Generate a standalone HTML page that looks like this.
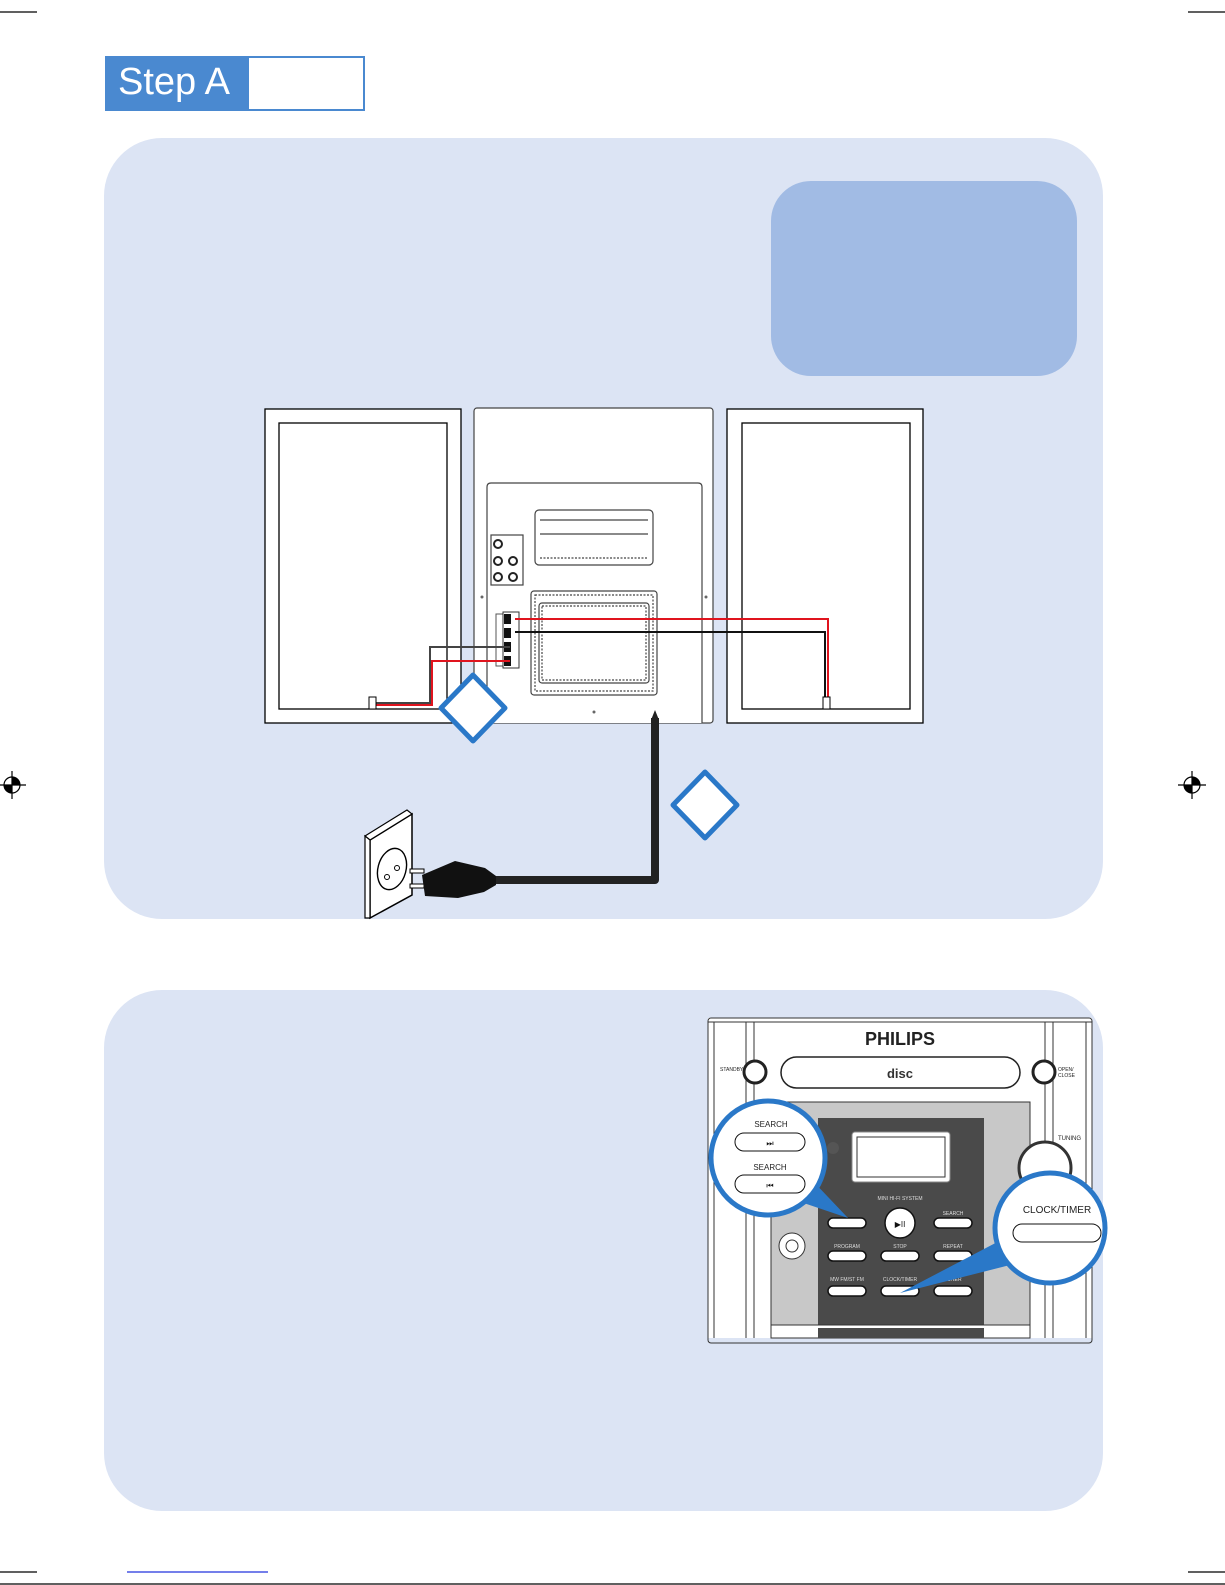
<!DOCTYPE html>
<html><head><meta charset="utf-8"><style>
html,body{margin:0;padding:0;background:#fff}
svg{display:block}
text{font-family:"Liberation Sans",sans-serif}
</style></head><body>
<svg width="1225" height="1585" viewBox="0 0 1225 1585" xmlns="http://www.w3.org/2000/svg">
<g stroke="#000" stroke-width="1.2">
<line x1="0" y1="12" x2="37" y2="12"/><line x1="1188" y1="12" x2="1225" y2="12"/>
<line x1="0" y1="1572" x2="37" y2="1572"/><line x1="1188" y1="1572" x2="1225" y2="1572"/>
<line x1="0" y1="1584" x2="1225" y2="1584"/>
</g>
<line x1="127" y1="1572" x2="268" y2="1572" stroke="#2233dd" stroke-width="1.2"/>
<g stroke="#000" stroke-width="1.2" fill="none">
<circle cx="12" cy="785" r="8"/><line x1="0" y1="785" x2="26" y2="785"/><line x1="12" y1="771" x2="12" y2="799"/>
<circle cx="1192" cy="785" r="8"/><line x1="1178" y1="785" x2="1206" y2="785"/><line x1="1192" y1="771" x2="1192" y2="799"/>
</g>
<path d="M12 777 A8 8 0 0 1 20 785 L12 785Z M12 793 A8 8 0 0 1 4 785 L12 785Z" fill="#000"/>
<path d="M1192 777 A8 8 0 0 1 1200 785 L1192 785Z M1192 793 A8 8 0 0 1 1184 785 L1192 785Z" fill="#000"/>
<!-- Step A -->
<rect x="106" y="57" width="258" height="53" fill="#fff" stroke="#4a89d0" stroke-width="2"/>
<rect x="106" y="57" width="143" height="53" fill="#4a89d0"/>
<text x="118" y="94" font-size="38" fill="#fff">Step A</text>
<!-- panels -->
<rect x="104" y="138" width="999" height="781" rx="58" fill="#dce4f4"/>
<rect x="771" y="181" width="306" height="195" rx="40" fill="#a1bbe4"/>
<rect x="104" y="990" width="999" height="521" rx="58" fill="#dce4f4"/>

<!-- speakers -->
<g stroke="#000" stroke-width="1.3" fill="#fff">
<rect x="265" y="409" width="196" height="314"/><rect x="279" y="423" width="168" height="286"/>
<rect x="727" y="409" width="196" height="314"/><rect x="742" y="423" width="168" height="286"/>
</g>
<!-- center unit -->
<g stroke="#444" stroke-width="1.2" fill="#fff">
<rect x="474" y="408" width="239" height="315" rx="3"/>
<path d="M487 723 V487 Q487 483 491 483 H698 Q702 483 702 487 V723"/>
<rect x="535" y="510" width="118" height="55" rx="4"/>
<line x1="540" y1="520" x2="648" y2="520"/><line x1="540" y1="534" x2="648" y2="534"/>
<line x1="540" y1="558" x2="648" y2="558" stroke-dasharray="2 1.5"/>
<rect x="491" y="535" width="32" height="50"/>
<rect x="531" y="591" width="126" height="104" rx="3"/>
<rect x="535" y="595" width="118" height="96" stroke-dasharray="2 1.5"/>
<rect x="539" y="603" width="110" height="80" rx="3"/>
<rect x="542" y="606" width="104" height="74" stroke-dasharray="2 1.5"/>
</g>
<g fill="#fff" stroke="#222" stroke-width="2">
<circle cx="498" cy="544" r="4"/><circle cx="498" cy="561" r="4"/><circle cx="513" cy="561" r="4"/><circle cx="498" cy="577" r="4"/><circle cx="513" cy="577" r="4"/>
</g>
<g fill="#666"><circle cx="482" cy="597" r="1.5"/><circle cx="706" cy="597" r="1.5"/><circle cx="594" cy="712" r="1.5"/></g>
<!-- terminal block -->
<rect x="496" y="614" width="7" height="52" fill="#fff" stroke="#555"/>
<rect x="503" y="612" width="16" height="56" fill="#fff" stroke="#333"/>
<rect x="504" y="614" width="7" height="10" fill="#111"/><rect x="504" y="628" width="7" height="10" fill="#111"/>
<rect x="504" y="642" width="7" height="10" fill="#111"/><rect x="504" y="656" width="7" height="10" fill="#111"/>
<!-- wires -->
<g fill="none" stroke-width="2">
<polyline points="515,619 828,619 828,700" stroke="#e0141e"/>
<polyline points="515,632 825,632 825,700" stroke="#111"/>
<polyline points="510,647 430,647 430,703 373,703" stroke="#444"/>
<polyline points="510,661 432,661 432,705 373,705" stroke="#e0141e"/>
</g>
<rect x="369" y="697" width="7" height="12" fill="#fff" stroke="#000"/>
<rect x="823" y="697" width="7" height="12" fill="#fff" stroke="#000"/>
<!-- power cord -->
<polyline points="655,718 655,880 496,880" fill="none" stroke="#222" stroke-width="8" stroke-linejoin="round"/>
<path d="M651 720 L655 710 L659 720Z" fill="#222"/>
<!-- outlet -->
<path d="M370 840 L412 814 L412 895 L370 918Z" fill="#fff" stroke="#000" stroke-width="1.5"/>
<path d="M365 836 L407 810 L412 814 L370 840Z" fill="#fff" stroke="#000" stroke-width="1.2"/>
<path d="M365 836 L370 840 L370 918 L365 918Z" fill="#fff" stroke="#000" stroke-width="1.2"/>
<ellipse cx="392" cy="869" rx="14" ry="21" fill="#fff" stroke="#000" stroke-width="1.4" transform="rotate(15 392 869)"/>
<circle cx="387" cy="877" r="2.5" fill="none" stroke="#000"/><circle cx="397" cy="868" r="2.5" fill="none" stroke="#000"/>
<rect x="410" y="869" width="14" height="4" fill="#fff" stroke="#000"/>
<rect x="410" y="884" width="14" height="4" fill="#fff" stroke="#000"/>
<path d="M422 875 L455 861 L485 868 L496 876 L496 885 L484 892 L458 898 L425 896Z" fill="#111"/>
<!-- diamonds -->
<g fill="#fff" stroke="#2a78c8" stroke-width="5" stroke-linejoin="round">
<path d="M473 675 L505 708 L473 741 L441 708Z"/>
<path d="M705 772 L737 805 L705 838 L673 805Z"/>
</g>

<!-- front panel -->
<rect x="708" y="1018" width="384" height="320" fill="#fff"/>
<g stroke="#333" stroke-width="1" fill="none">
<rect x="708" y="1018" width="384" height="325" rx="3"/>
<line x1="714" y1="1022" x2="714" y2="1338"/><line x1="746" y1="1022" x2="746" y2="1338"/><line x1="754" y1="1022" x2="754" y2="1338"/>
<line x1="1045" y1="1022" x2="1045" y2="1338"/><line x1="1053" y1="1022" x2="1053" y2="1338"/><line x1="1086" y1="1022" x2="1086" y2="1338"/>
<line x1="708" y1="1022" x2="1092" y2="1022"/>
</g>
<text x="900" y="1045" font-size="18" font-weight="bold" text-anchor="middle" fill="#222">PHILIPS</text>
<rect x="781" y="1057" width="239" height="31" rx="15.5" fill="#fff" stroke="#222" stroke-width="1.5"/>
<text x="900" y="1078" font-size="13" font-weight="bold" text-anchor="middle" fill="#333">disc</text>
<circle cx="755" cy="1072" r="11" fill="#fff" stroke="#222" stroke-width="3"/>
<circle cx="1044" cy="1072" r="11" fill="#fff" stroke="#222" stroke-width="3"/>
<text x="720" y="1071" font-size="5" fill="#222">STANDBY</text>
<text x="1058" y="1071" font-size="5" fill="#222">OPEN/</text>
<text x="1058" y="1077" font-size="5" fill="#222">CLOSE</text>
<rect x="771" y="1102" width="259" height="236" fill="#c8c8c8" stroke="#333"/>
<rect x="818" y="1118" width="166" height="220" fill="#4a4a4a"/>
<rect x="771" y="1325" width="259" height="13" fill="#fff" stroke="#333"/>
<rect x="818" y="1328" width="166" height="10" fill="#4a4a4a"/>
<rect x="852" y="1132" width="98" height="50" rx="3" fill="#fff" stroke="#888"/>
<rect x="857" y="1137" width="88" height="40" fill="#fff" stroke="#333"/>
<circle cx="833" cy="1148" r="6" fill="#555"/>
<circle cx="1045" cy="1168" r="26" fill="#fff" stroke="#333" stroke-width="3"/>
<text x="1058" y="1140" font-size="6" fill="#222">TUNING</text>
<circle cx="792" cy="1246" r="13" fill="#fff" stroke="#333"/><circle cx="792" cy="1246" r="6" fill="#fff" stroke="#333"/>
<g fill="#fff" stroke="#111" stroke-width="1.5">
<rect x="828" y="1218" width="38" height="10" rx="5"/><rect x="934" y="1218" width="38" height="10" rx="5"/>
<rect x="828" y="1251" width="38" height="10" rx="5"/><rect x="881" y="1251" width="38" height="10" rx="5"/><rect x="934" y="1251" width="38" height="10" rx="5"/>
<rect x="828" y="1286" width="38" height="10" rx="5"/><rect x="881" y="1286" width="38" height="10" rx="5"/><rect x="934" y="1286" width="38" height="10" rx="5"/>
<circle cx="900" cy="1223" r="15"/>
</g>
<text x="900" y="1227" font-size="8" text-anchor="middle" fill="#111">▶II</text>
<g font-size="5" fill="#ddd" text-anchor="middle">
<text x="900" y="1200">MINI HI-FI SYSTEM</text><text x="953" y="1215">SEARCH</text>
<text x="847" y="1248">PROGRAM</text><text x="900" y="1248">STOP</text><text x="953" y="1248">REPEAT</text>
<text x="847" y="1281">MW FM/ST FM</text><text x="900" y="1281">CLOCK/TIMER</text><text x="953" y="1281">TUNER</text>
</g>
<!-- callouts -->
<path d="M780 1195 L848 1218 L810 1178Z" fill="#2a78c8"/>
<circle cx="768" cy="1158" r="57" fill="#fff" stroke="#2a78c8" stroke-width="5"/>
<path d="M1005 1238 L900 1293 L1010 1265Z" fill="#2a78c8"/>
<circle cx="1050" cy="1228" r="55" fill="#fff" stroke="#2a78c8" stroke-width="5"/>
<text x="771" y="1127" font-size="8" text-anchor="middle" fill="#222">SEARCH</text>
<rect x="735" y="1133" width="70" height="18" rx="9" fill="#fff" stroke="#111"/>
<text x="770" y="1146" font-size="8" text-anchor="middle" fill="#111">⏭</text>
<text x="770" y="1170" font-size="8" text-anchor="middle" fill="#222">SEARCH</text>
<rect x="735" y="1175" width="70" height="18" rx="9" fill="#fff" stroke="#111"/>
<text x="770" y="1188" font-size="8" text-anchor="middle" fill="#111">⏮</text>
<text x="1057" y="1213" font-size="10" text-anchor="middle" fill="#222">CLOCK/TIMER</text>
<rect x="1013" y="1224" width="88" height="18" rx="9" fill="#fff" stroke="#111"/>
</svg>
</body></html>
